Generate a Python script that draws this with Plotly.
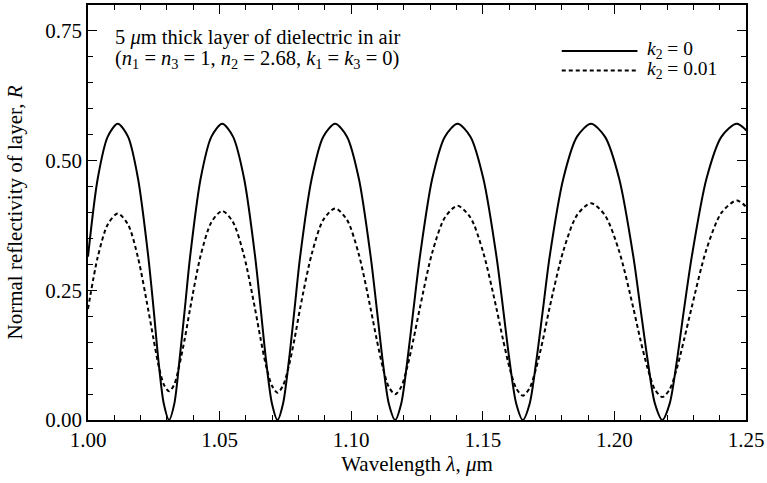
import plotly.graph_objects as go

# Wavelength samples (micrometres)
wavelength = [
    1.0000, 1.0037, 1.0075, 1.0113, 1.0152, 1.0190, 1.0229, 1.0249, 1.0268, 1.0288,
    1.0308, 1.0328, 1.0347, 1.0368, 1.0388, 1.0428, 1.0469, 1.0510, 1.0551, 1.0593, 1.0635, 1.0656, 1.0677, 1.0699,
    1.0720, 1.0741, 1.0763, 1.0785, 1.0806, 1.0850, 1.0894, 1.0939, 1.0984, 1.1029, 1.1074, 1.1097, 1.1120, 1.1143,
    1.1167, 1.1190, 1.1213, 1.1237, 1.1261, 1.1308, 1.1356, 1.1404, 1.1453, 1.1502, 1.1552, 1.1577, 1.1602, 1.1627,
    1.1652, 1.1678, 1.1703, 1.1729, 1.1754, 1.1806, 1.1858, 1.1911, 1.1964, 1.2018, 1.2072, 1.2099, 1.2127, 1.2154,
    1.2182, 1.2210, 1.2237, 1.2265, 1.2294, 1.2350, 1.2407, 1.2465, 1.2523,
]

# Reflectivity for k2 = 0 (solid)
r_k0 = [
    0.3149, 0.4655, 0.5462, 0.5710, 0.5462, 0.4655, 0.3149, 0.2152, 0.1128, 0.0315,
    0.0000, 0.0315, 0.1128, 0.2152, 0.3149, 0.4655, 0.5462, 0.5710, 0.5462, 0.4655, 0.3149, 0.2152, 0.1128, 0.0315,
    0.0000, 0.0315, 0.1128, 0.2152, 0.3149, 0.4655, 0.5462, 0.5710, 0.5462, 0.4655, 0.3149, 0.2152, 0.1128, 0.0315,
    0.0000, 0.0315, 0.1128, 0.2152, 0.3149, 0.4655, 0.5462, 0.5710, 0.5462, 0.4655, 0.3149, 0.2152, 0.1128, 0.0315,
    0.0000, 0.0315, 0.1128, 0.2152, 0.3149, 0.4655, 0.5462, 0.5710, 0.5462, 0.4655, 0.3149, 0.2152, 0.1128, 0.0315,
    0.0000, 0.0315, 0.1128, 0.2152, 0.3149, 0.4655, 0.5462, 0.5710, 0.5462,
]

# Reflectivity for k2 = 0.01 (dotted)
r_k001 = [
    0.2140, 0.3140, 0.3770, 0.3980, 0.3770, 0.3130, 0.2120, 0.1560, 0.1050, 0.0685,
    0.0552, 0.0687, 0.1056, 0.1575, 0.2147, 0.3170, 0.3816, 0.4030, 0.3814, 0.3163, 0.2133, 0.1556, 0.1033, 0.0661,
    0.0525, 0.0662, 0.1040, 0.1570, 0.2155, 0.3199, 0.3859, 0.4078, 0.3858, 0.3192, 0.2140, 0.1550, 0.1016, 0.0636,
    0.0497, 0.0638, 0.1023, 0.1565, 0.2163, 0.3230, 0.3905, 0.4128, 0.3903, 0.3223, 0.2147, 0.1545, 0.0999, 0.0611,
    0.0469, 0.0613, 0.1006, 0.1560, 0.2170, 0.3261, 0.3950, 0.4178, 0.3948, 0.3254, 0.2156, 0.1541, 0.0983, 0.0587,
    0.0442, 0.0589, 0.0991, 0.1556, 0.2180, 0.3293, 0.3997, 0.4230, 0.3995,
]

x_ticks = [1.00, 1.05, 1.10, 1.15, 1.20, 1.25]
y_ticks = [0.00, 0.25, 0.50, 0.75]

series_names = ["<i>k</i><sub>2</sub> = 0", "<i>k</i><sub>2</sub> = 0.01"]
note_lines = [
    "5 <i>μ</i>m thick layer of dielectric in air",
    "(<i>n</i><sub>1</sub> = <i>n</i><sub>3</sub> = 1, <i>n</i><sub>2</sub> = 2.68, <i>k</i><sub>1</sub> = <i>k</i><sub>3</sub> = 0)",
]

FONT = "Liberation Serif"
DOT = "4px,3px"

fig = go.Figure()
fig.add_trace(go.Scatter(x=wavelength, y=r_k0, mode="lines", name=series_names[0],
                         line=dict(color="black", width=2, shape="spline", smoothing=0.8),
                         showlegend=False))
fig.add_trace(go.Scatter(x=wavelength, y=r_k001, mode="lines", name=series_names[1],
                         line=dict(color="black", width=2, dash=DOT, shape="spline", smoothing=0.8),
                         showlegend=False))

axis_common = dict(
    showgrid=False, zeroline=False, showline=True, linecolor="black", linewidth=1.5,
    mirror="allticks", ticks="inside", ticklen=9, tickwidth=1.3, tickcolor="black",
    tickfont=dict(family=FONT, size=21, color="black"),
    ticklabeloverflow="allow",
)

fig.update_xaxes(range=[1.0, 1.25], tickvals=x_ticks, tickformat=".2f",
                 minor=dict(dtick=0.01, ticks="inside", ticklen=5, tickwidth=1.3, tickcolor="black", showgrid=False),
                 title=dict(text="Wavelength <i>λ</i>, <i>μ</i>m", font=dict(family=FONT, size=21, color="black"), standoff=2),
                 **axis_common)
fig.update_yaxes(range=[0, 0.8], tickvals=y_ticks, tickformat=".2f",
                 minor=dict(dtick=0.05, ticks="inside", ticklen=5, tickwidth=1.3, tickcolor="black", showgrid=False),
                 title=dict(text="Normal reflectivity of layer, <i>R</i>", font=dict(family=FONT, size=21, color="black"), standoff=17),
                 **axis_common)

# annotation text
note_y = [0.921, 0.868]
for line, yy in zip(note_lines, note_y):
    fig.add_annotation(xref="paper", yref="paper", x=0.038, y=yy, text=line,
                       showarrow=False, xanchor="left", yanchor="middle",
                       font=dict(family=FONT, size=20.5, color="black"))

# manual legend (line samples + labels)
legend_rows = [0.889, 0.842]
dashes = ["solid", DOT]
for name, yrow, dsh in zip(series_names, legend_rows, dashes):
    fig.add_shape(type="line", xref="paper", yref="paper", x0=0.72, x1=0.835, y0=yrow, y1=yrow,
                  line=dict(color="black", width=2, dash=dsh))
    fig.add_annotation(xref="paper", yref="paper", x=0.847, y=yrow + 0.002, text=name,
                       showarrow=False, xanchor="left", yanchor="middle",
                       font=dict(family=FONT, size=19.5, color="black"))

fig.update_layout(
    width=767, height=483,
    margin=dict(l=88, r=18, t=3, b=63),
    paper_bgcolor="white", plot_bgcolor="white",
    font=dict(family=FONT, color="black"),
)

fig.write_html("out.html",
               config={"displayModeBar": False},
               post_script="document.body.style.margin='0';document.body.style.overflow='hidden';")
